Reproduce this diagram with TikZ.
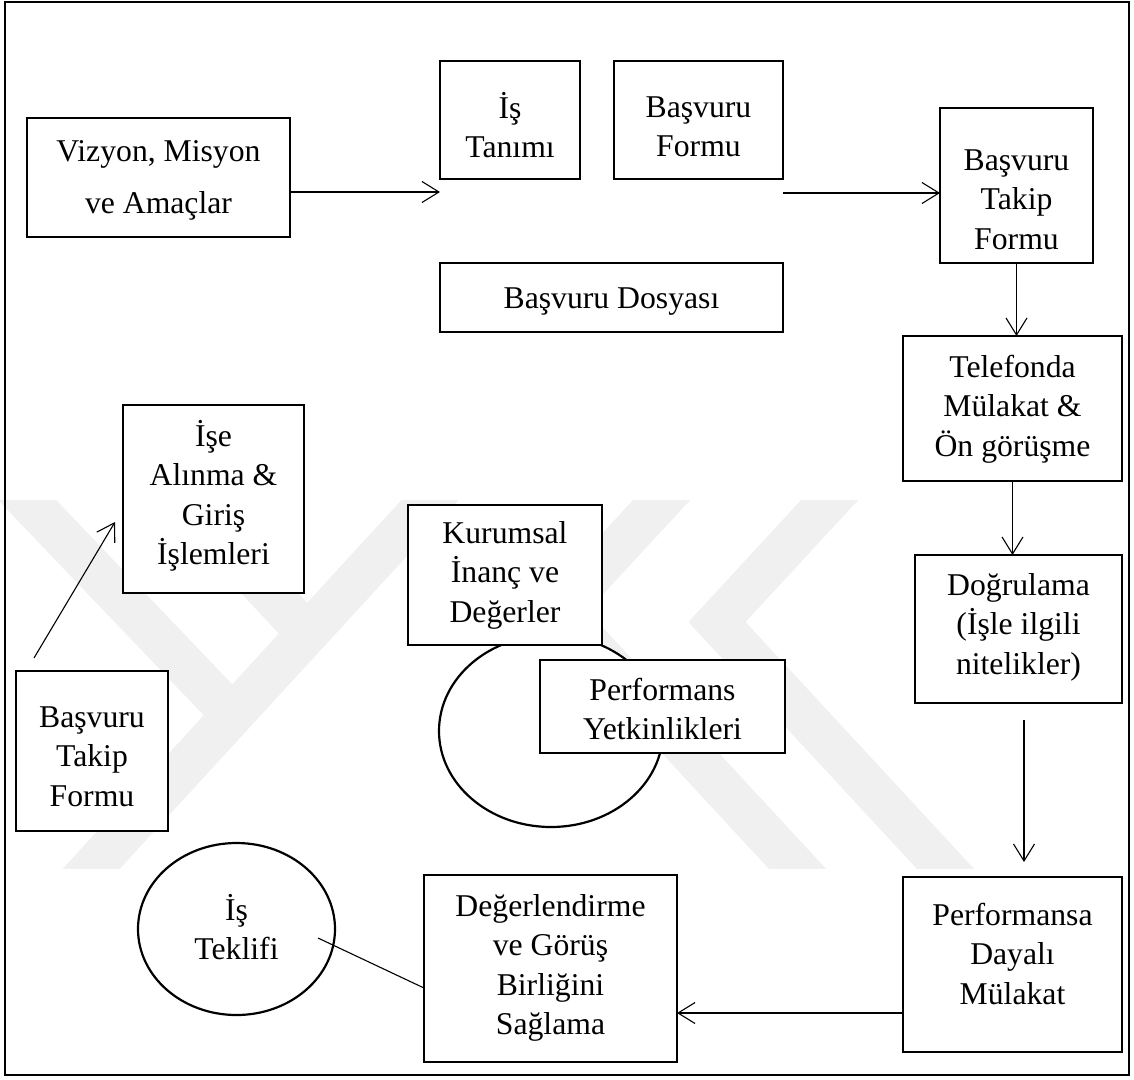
\documentclass[tikz,border=0pt]{standalone}
\usepackage{fontspec}
\setmainfont{Liberation Serif}
\usetikzlibrary{arrows.meta,shapes.geometric}
\begin{document}
\begin{tikzpicture}[x=1pt,y=-1pt,
  box/.style={draw,line width=2.4pt,fill=white,inner sep=0pt,outer sep=0pt},
  oval/.style={draw,ellipse,line width=2.2pt,fill=white,inner sep=0pt,outer sep=0pt},
  lbl/.style={font=\fontsize{31.7}{39.5}\selectfont,align=center,inner sep=0pt,anchor=north},
  flow/.style={line width=1.1pt,-{Straight Barb[length=17pt,width=21pt]}},
  link/.style={line width=1.1pt},
  wm/.style={draw=black!6,line width=42pt}
]
\useasboundingbox (0,0) rectangle (1134,1079);

% faint background chevrons
\begin{scope}
  \clip (0,500) rectangle (1134,868);
  \draw[wm] (58,905) -- (464,463);
  \draw[wm] (7,479) -- (232.5,715);
  \draw[wm] (163,479) -- (307,633);
  \draw[wm,line join=miter] (850,478) -- (717,622) -- (965,890);
  \draw[wm,line join=miter] (682,478) -- (559,611) -- (817,890);
\end{scope}

% outer frame
\draw[line width=2.4pt] (5,2) rectangle (1129,1075);

% top row
\node[box,minimum width=263pt,minimum height=119pt] (viz) at (158.5,177.5) {};
\node[lbl] (viz-t) at (158.5,133.4) {\strut Vizyon, Misyon\\[12.5pt]ve Amaçlar};

\node[box,minimum width=140pt,minimum height=118pt] (tanim) at (510,120) {};
\node[lbl] (tanim-t) at (510,90.4) {\strut İş\\Tanımı};

\node[box,minimum width=169pt,minimum height=118pt] (bform) at (698.5,120) {};
\node[lbl] (bform-t) at (698.5,89.4) {\strut Başvuru\\Formu};

\node[box,minimum width=343pt,minimum height=69pt] (dosya) at (611.5,297.5) {};
\node[lbl] (dosya-t) at (611.5,280.4) {\strut Başvuru Dosyası};

% right column
\node[box,minimum width=153pt,minimum height=155pt] (takipR) at (1016.5,185.5) {};
\node[lbl] (takipR-t) at (1016.5,142.4) {\strut Başvuru\\Takip\\Formu};

\node[box,minimum width=219pt,minimum height=145pt] (tel) at (1012.5,408.5) {};
\node[lbl] (tel-t) at (1012.5,349.4) {\strut Telefonda\\Mülakat \&\\Ön görüşme};

\node[box,minimum width=207pt,minimum height=148pt] (dog) at (1018.5,629) {};
\node[lbl] (dog-t) at (1018.5,567.4) {\strut Doğrulama\\(İşle ilgili\\nitelikler)};

\node[box,minimum width=219pt,minimum height=175pt] (perf) at (1012.5,964.5) {};
\node[lbl] (perf-t) at (1012.5,897.4) {\strut Performansa\\Dayalı\\Mülakat};

% bottom row
\node[box,minimum width=253pt,minimum height=187pt] (deger) at (550.5,968.5) {};
\node[lbl] (deger-t) at (550.5,888.4) {\strut Değerlendirme\\ve Görüş\\Birliğini\\Sağlama};

\node[oval,minimum width=197pt,minimum height=172pt] (teklif) at (236.5,929) {};
\node[lbl] (teklif-t) at (236.5,892.4) {\strut İş\\Teklifi};

% left column
\node[box,minimum width=181pt,minimum height=188pt] (ise) at (213.5,499) {};
\node[lbl] (ise-t) at (213.5,418.4) {\strut İşe\\Alınma \&\\Giriş\\İşlemleri};

\node[box,minimum width=152pt,minimum height=160pt] (takipL) at (92,751) {};
\node[lbl] (takipL-t) at (92,699.4) {\strut Başvuru\\Takip\\Formu};

% centre group
\node[oval,minimum width=224pt,minimum height=192pt] (core) at (551,731) {};
\node[box,minimum width=194pt,minimum height=140pt] (kurum) at (505,575) {};
\node[lbl] (kurum-t) at (505,515.4) {\strut Kurumsal\\İnanç ve\\Değerler};
\node[box,minimum width=245pt,minimum height=93pt] (yetkin) at (662.5,706.5) {};
\node[lbl] (yetkin-t) at (662.5,672.4) {\strut Performans\\Yetkinlikleri};

% connectors
\coordinate (a1e) at (440,192);
\draw[flow] (viz.east |- a1e) -- (a1e);

\coordinate (a2s) at (783,193);
\draw[flow] (a2s) -- (a2s -| takipR.west);

\draw[flow] (takipR.south) -- (takipR.south |- tel.north);
\draw[flow] (tel.south) -- (tel.south |- dog.north);

\coordinate (a5s) at (1024,720);
\coordinate (a5e) at (1024,862);
\draw[flow] (a5s) -- (a5e);

\coordinate (a6y) at (800,1013);
\draw[flow] (perf.west |- a6y) -- (deger.east |- a6y);

\coordinate (l7s) at (318,938);
\coordinate (l7y) at (400,988);
\draw[link] (l7s) -- (deger.west |- l7y);

\coordinate (a8s) at (34,658);
\coordinate (a8e) at (115,522);
\draw[flow] (a8s) -- (a8e);
\end{tikzpicture}
\end{document}
